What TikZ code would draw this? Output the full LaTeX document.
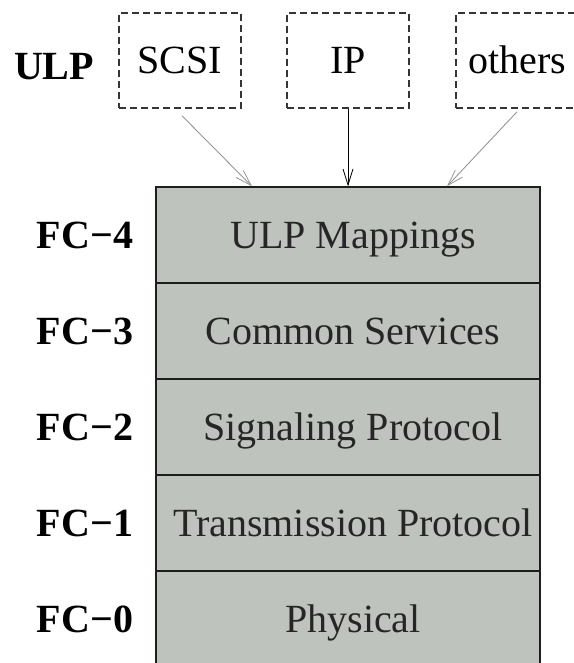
\documentclass[tikz,border=0pt]{standalone}
\usepackage{fontspec}
\setmainfont{Liberation Serif}
\usetikzlibrary{arrows.meta}
\definecolor{layerfill}{RGB}{191,195,189}
\definecolor{edgedark}{RGB}{30,30,30}
\definecolor{arrowgray}{RGB}{150,150,150}
\begin{document}
\begin{tikzpicture}[x=1pt,y=-1pt,
  big/.style={font=\fontsize{40}{46}\selectfont},
  ulpbox/.style={draw=edgedark!90, line width=1.6pt, dash pattern=on 7pt off 4pt,
    minimum width=122pt, minimum height=95pt, inner sep=0pt, big,
    text height=27pt, text depth=0pt},
  layer/.style={draw=edgedark, line width=1.4pt, fill=layerfill,
    minimum width=384pt, minimum height=96pt, inner sep=0pt, big,
    text height=28pt, text depth=1pt, text=black!85},
  tag/.style={font=\fontsize{40}{46}\selectfont\bfseries, inner sep=0pt,
    text height=27pt, text depth=0pt},
  feed/.style={line width=0.9pt, -{Straight Barb[length=16pt,width=10pt,line width=0.8pt]}},
]
\useasboundingbox (0,0) rectangle (573,663);

% upper layer protocols
\node[tag] (ulp) at (54,66) {ULP};
\node[ulpbox] (scsi) at (180,60.5) {SCSI};
\node[ulpbox] (ip) at (348,60.5) {IP};
\node[ulpbox] (others) at (517,60.5) {others};

% the FC layer stack
\node[layer] (fc4) at (348,235) {\hspace{10pt}ULP Mappings};
\node[layer] (fc3) at (348,331) {\hspace{10pt}Common Services};
\node[layer] (fc2) at (348,427) {\hspace{10pt}Signaling Protocol};
\node[layer] (fc1) at (348,523) {\hspace{10pt}Transmission Protocol};
\node[layer] (fc0) at (348,619) {\hspace{10pt}Physical};

% layer names
\node[tag] (t4) at (85,235) {FC−4};
\node[tag] (t3) at (85,331) {FC−3};
\node[tag] (t2) at (85,427) {FC−2};
\node[tag] (t1) at (85,523) {FC−1};
\node[tag] (t0) at (85,619) {FC−0};

% mappings into FC-4
\coordinate (s0) at ([shift={(2,7)}]scsi.south);
\coordinate (o0) at ([shift={(0,3)}]others.south);
\draw[feed, arrowgray] (s0) -- ([xshift=-96pt]fc4.north);
\draw[feed, black] (ip.south) -- (fc4.north);
\draw[feed, arrowgray] (o0) -- ([xshift=99pt]fc4.north);
\end{tikzpicture}
\end{document}
